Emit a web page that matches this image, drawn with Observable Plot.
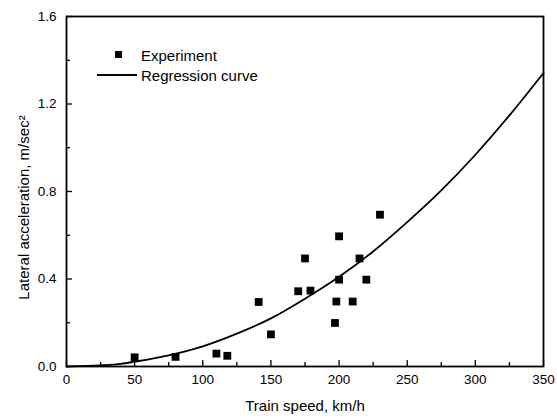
<!DOCTYPE html>
<html>
<head>
<meta charset="utf-8">
<script src="https://cdn.jsdelivr.net/npm/d3@7"></script>
<script src="https://cdn.jsdelivr.net/npm/@observablehq/plot@0.6"></script>
<style>
  body { margin: 0; background: #fff; }
  #wrap { position: relative; width: 557px; height: 418px; font-family: "Liberation Sans", Arial, sans-serif; }
  #legend { position: absolute; left: 94px; top: 45px; font-size: 15px; color: #000; }
  #legend .row { display: flex; align-items: center; height: 20px; }
  #legend svg { width: 47px; height: 20px; }
</style>
</head>
<body>
<div id="wrap">
  <div id="chart"></div>
  <div id="legend">
    <div class="row"><svg><rect x="21" y="6" width="7" height="7" fill="#000"/></svg><span>Experiment</span></div>
    <div class="row"><svg><line x1="3" x2="43" y1="10" y2="10" stroke="#000" stroke-width="1.8"/></svg><span>Regression curve</span></div>
  </div>
</div>
<script>
// Experimental points: train speed (km/h), lateral acceleration (m/sec^2)
const expSpeed = [50, 80, 110, 118, 141, 150, 170, 175, 179, 197, 198, 200, 200, 210, 215, 220, 230];
const expAccel = [0.042, 0.044, 0.059, 0.049, 0.295, 0.147, 0.344, 0.494, 0.347, 0.199, 0.297, 0.397, 0.595, 0.297, 0.494, 0.397, 0.694];

// Regression curve
const curveSpeed = [0, 25, 40, 50, 75, 100, 125, 150, 175, 200, 225, 250, 275, 300, 325, 350];
const curveAccel = [0.0, 0.005, 0.012, 0.022, 0.051, 0.092, 0.15, 0.22, 0.31, 0.41, 0.526, 0.66, 0.805, 0.968, 1.148, 1.342];

const xTicks = [0, 50, 100, 150, 200, 250, 300, 350];
const xMinor = [25, 75, 125, 175, 225, 275, 325];
const yTicks = [0.0, 0.4, 0.8, 1.2, 1.6];
const yMinor = [0.2, 0.6, 1.0, 1.4];
const xTitle = "Train speed, km/h";
const yTitle = "Lateral acceleration, m/sec²";

const points = expSpeed.map((s, i) => ({speed: s, accel: expAccel[i]}));
const curve = curveSpeed.map((s, i) => ({speed: s, accel: curveAccel[i]}));

const chart = Plot.plot({
  width: 557,
  height: 418,
  marginLeft: 66,
  marginRight: 14,
  marginTop: 16,
  marginBottom: 52,
  style: {fontFamily: '"Liberation Sans", Arial, sans-serif', fontSize: "13.5px", color: "#000", background: "#fff"},
  x: {domain: [0, 350]},
  y: {domain: [0, 1.6]},
  marks: [
    Plot.frame({stroke: "#000", strokeWidth: 1.8}),
    // tick labels
    Plot.axisX({ticks: xTicks, tickSize: 0, tickPadding: 8, tickFormat: d => String(d), label: null, fontSize: 13.5}),
    Plot.axisY({ticks: yTicks, tickSize: 0, tickPadding: 10, tickFormat: d3.format(".1f"), label: null, fontSize: 13.5}),
    // inward ticks
    Plot.axisX({ticks: xTicks, tickSize: -6, tickFormat: () => "", label: null, strokeWidth: 1.3}),
    Plot.axisX({ticks: xMinor, tickSize: -4, tickFormat: () => "", label: null, strokeWidth: 1.3}),
    Plot.axisY({ticks: yTicks, tickSize: -6, tickFormat: () => "", label: null, strokeWidth: 1.3}),
    Plot.axisY({ticks: yMinor, tickSize: -4, tickFormat: () => "", label: null, strokeWidth: 1.3}),
    // axis titles
    Plot.text([xTitle], {frameAnchor: "bottom", text: d => d, dy: 40, fontSize: 15, lineAnchor: "middle", textAnchor: "middle"}),
    Plot.text([yTitle], {frameAnchor: "left", text: d => d, rotate: -90, dx: -42, dy: 16, fontSize: 15, lineAnchor: "middle", textAnchor: "middle"}),
    Plot.line(curve, {x: "speed", y: "accel", stroke: "#000", strokeWidth: 1.8, curve: "monotone-x"}),
    Plot.dot(points, {x: "speed", y: "accel", symbol: "square", r: 4.4, fill: "#000", stroke: "none"})
  ]
});
document.getElementById("chart").appendChild(chart);
</script>
</body>
</html>
